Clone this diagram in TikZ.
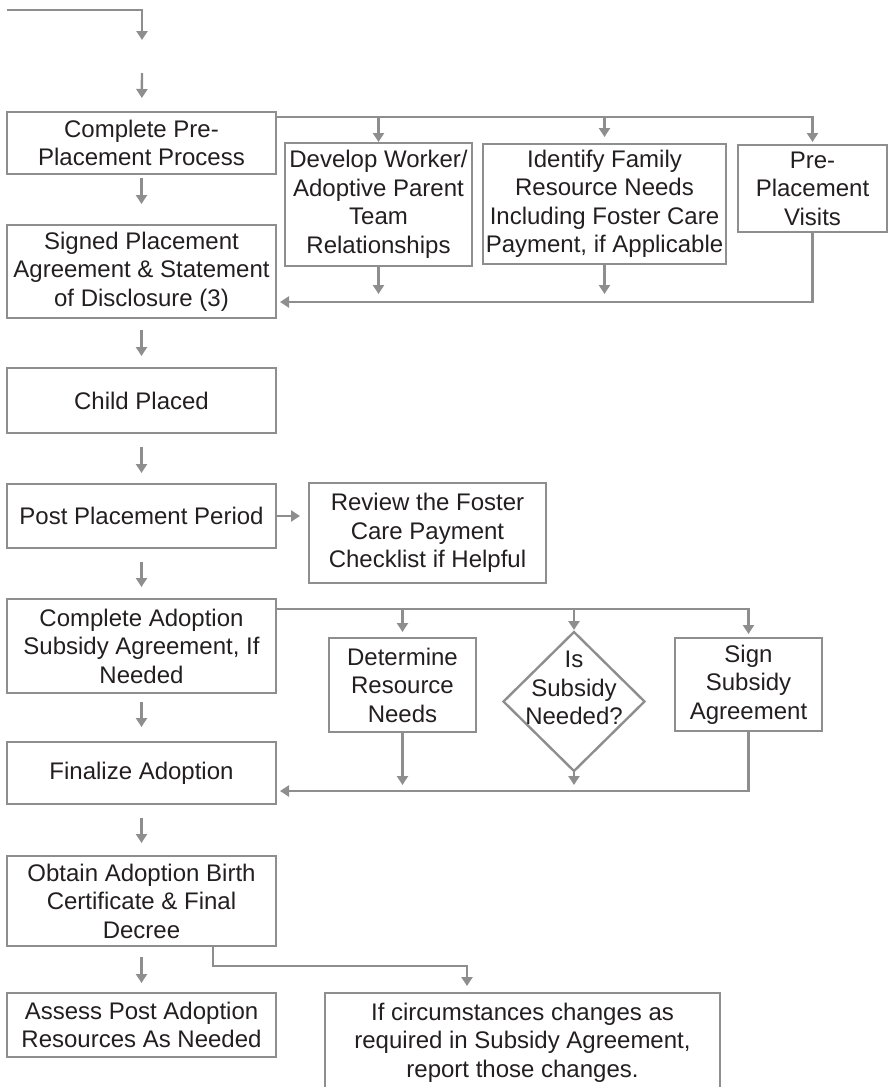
\documentclass[tikz,border=0pt]{standalone}
\usepackage{fontspec}
\setmainfont{Liberation Sans}
\usetikzlibrary{arrows.meta,shapes.geometric,positioning,calc}

\definecolor{flowgray}{RGB}{142,142,142}
\definecolor{ink}{RGB}{35,31,32}

\begin{document}
\begin{tikzpicture}[x=1pt, y=-1pt, >={Triangle[length=9pt,width=11pt]}]
	\tikzset{
		stepbox/.style={draw=flowgray, line width=2.4pt, align=center, inner sep=0pt, outer sep=0pt,
			text=ink, font=\fontsize{24}{28.5}\selectfont},
		flow/.style={->, draw=flowgray, line width=2.4pt},
		choice/.style={diamond, draw=flowgray, line width=2.4pt, inner sep=0pt, outer sep=0pt},
	}
	\useasboundingbox (0,0) rectangle (888,1087);

	% main column
	\node[stepbox, minimum width=269, minimum height=62] (pre) at (141.5,143) {Complete Pre-\\Placement Process};
	\node[stepbox, minimum width=269, minimum height=93, below=51pt of pre] (signed) {Signed Placement\\Agreement \& Statement\\of Disclosure (3)};
	\node[stepbox, minimum width=269, minimum height=65, below=50pt of signed] (placed) {Child Placed};
	\node[stepbox, minimum width=269, minimum height=64, below=51pt of placed] (post) {Post Placement Period};
	\node[stepbox, minimum width=269, minimum height=94, below=51pt of post] (subsidy) {Complete Adoption\\Subsidy Agreement, If\\Needed};
	\node[stepbox, minimum width=269, minimum height=62, below=49pt of subsidy] (final) {Finalize Adoption};
	\node[stepbox, minimum width=269, minimum height=90, below=52pt of final] (obtain) {Obtain Adoption Birth\\Certificate \& Final\\Decree};
	\node[stepbox, minimum width=269, minimum height=64, below=47pt of obtain] (assess) {Assess Post Adoption\\Resources As Needed};

	% side steps
	\node[stepbox, minimum width=187, minimum height=123] (develop) at (378.5,204.5) {Develop Worker/\\Adoptive Parent\\Team\\Relationships};
	\node[stepbox, minimum width=243, minimum height=120] (identify) at (604.5,204) {Identify Family\\Resource Needs\\Including Foster Care\\Payment, if Applicable};
	\node[stepbox, minimum width=149, minimum height=87] (visits) at (812.5,188.5) {Pre-\\Placement\\Visits};
	\node[stepbox, minimum width=237, minimum height=100] (review) at (427.5,533) {Review the Foster\\Care Payment\\Checklist if Helpful};
	\node[stepbox, minimum width=147, minimum height=94] (determine) at (402.5,685) {Determine\\Resource\\Needs};
	\node[choice, minimum width=141, minimum height=139] (need) at (574,701.5) {};
	\node[text=ink, align=center, inner sep=0pt, font=\fontsize{24}{28.5}\selectfont] (needtext) at (574,688) {Is\\Subsidy\\Needed?};
	\node[stepbox, minimum width=147, minimum height=93] (sign) at (748.5,684.5) {Sign\\Subsidy\\Agreement};
	\node[stepbox, minimum width=395, minimum height=99] (report) at (522.5,1042.5) {If circumstances changes as\\required in Subsidy Agreement,\\report those changes.};

	% entry
	\coordinate (entry) at (7,10);
	\coordinate (drop) at (142,40);
	\coordinate (lead) at (142,73);
	\draw[flow] (entry) -| (drop);
	\draw[flow, shorten >=14pt] (lead) -- (pre);

	% down the main column
	\draw[flow, shorten <=4pt, shorten >=21pt] (pre) -- (signed);
	\draw[flow, shorten <=12pt, shorten >=12pt] (signed) -- (placed);
	\draw[flow, shorten <=14pt, shorten >=11pt] (placed) -- (post);
	\draw[flow, shorten <=14pt, shorten >=12pt] (post) -- (subsidy);
	\draw[flow, shorten <=9pt, shorten >=15pt] (subsidy) -- (final);
	\draw[flow, shorten <=14pt, shorten >=13pt] (final) -- (obtain);
	\draw[flow, shorten <=11pt, shorten >=10pt] (obtain) -- (assess);

	% pre-placement branch
	\coordinate (fork1) at ($(pre.north east)+(0,5)$);
	\coordinate (back1) at (0,302);
	\draw[flow, shorten >=1pt] (fork1) -| (develop.north);
	\draw[flow, shorten >=7pt] (fork1) -| (identify.north);
	\draw[flow, shorten >=3pt] (fork1) -| (visits.north);
	\draw[flow, shorten >=8pt] (develop) -- (develop |- back1);
	\draw[flow, shorten >=8pt] (identify) -- (identify |- back1);
	\draw[flow, shorten >=4pt] (visits.south) |- (signed.east |- back1);

	% checklist
	\draw[flow, shorten >=9pt] (post) -- (post -| review.west);

	% subsidy branch
	\coordinate (fork2) at ($(subsidy.north east)+(0,10)$);
	\coordinate (back2) at (0,791);
	\draw[flow, shorten >=6pt] (fork2) -| (determine.north);
	\draw[flow, shorten >=2pt] (fork2) -| (need.north);
	\draw[flow, shorten >=4pt] (fork2) -| (sign.north);
	\draw[flow, shorten >=6pt] (determine) -- (determine |- back2);
	\draw[flow, shorten >=6pt] (need.south) -- (need.south |- back2);
	\draw[flow, shorten >=4pt] (sign.south) |- (final.east |- back2);

	% report changes
	\coordinate (fork3) at (213,966);
	\coordinate (fork3b) at (467,966);
	\draw[flow, shorten >=7pt] (obtain.south -| fork3) -- (fork3) -- (fork3b) -- (fork3b |- report.north);
\end{tikzpicture}
\end{document}
